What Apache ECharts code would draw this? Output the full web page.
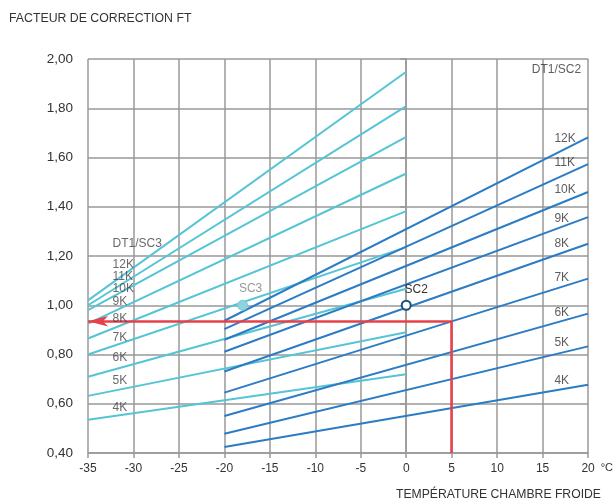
<!DOCTYPE html>
<html>
<head>
<meta charset="utf-8">
<script src="https://cdn.jsdelivr.net/npm/echarts@6/dist/echarts.min.js"></script>
<style>
  html, body { margin: 0; padding: 0; background: #fff; }
  #chart { width: 616px; height: 501px; }
</style>
</head>
<body>
<div id="chart"></div>
<script>
// K levels, top to bottom
const kLevels = ["12K", "11K", "10K", "9K", "8K", "7K", "6K", "5K", "4K"];

// DT1/SC3 curves: from -35 °C to 0 °C
const sc3X = [-35, 0];
const sc3Start = [1.02, 1.0, 0.98, 0.925, 0.865, 0.8, 0.71, 0.632, 0.535];
const sc3End = [1.948, 1.809, 1.684, 1.535, 1.382, 1.236, 1.067, 0.89, 0.72];

// DT1/SC2 curves: from -20 °C to 20 °C
const sc2X = [-20, 20];
const sc2Start = [0.937, 0.903, 0.86, 0.811, 0.731, 0.645, 0.55, 0.478, 0.424];
const sc2End = [1.682, 1.573, 1.46, 1.358, 1.25, 1.108, 0.966, 0.833, 0.677];

// label anchors (data units)
const sc3LabelX = -32.3;
const sc3LabelY = [1.165, 1.116, 1.068, 1.015, 0.945, 0.868, 0.787, 0.693, 0.583];
const sc2LabelX = 16.3;
const sc2LabelY = [1.678, 1.58, 1.47, 1.35, 1.25, 1.11, 0.97, 0.848, 0.693];

// reference points
const sc3Point = [-18, 1.0];
const sc2Point = [0, 1.0];

// example reading: 5 °C -> 0.935
const readX = 5;
const readY = 0.935;

const CYAN = "#55c4d5";
const BLUE = "#2b7cc4";
const GRIDC = "#999";
const TEXT = "#333";
const FONT = "'Liberation Sans', Arial, sans-serif";

const chart = echarts.init(document.getElementById("chart"), null, { renderer: "canvas" });

const curve = (xs, a, b, color, name) => ({
  name,
  type: "line",
  data: [[xs[0], a], [xs[1], b]],
  symbol: "none",
  silent: true,
  lineStyle: { color, width: 2 },
  z: 3,
});

const series = [];
kLevels.forEach((k, i) => series.push(curve(sc3X, sc3Start[i], sc3End[i], CYAN, "SC3 " + k)));
kLevels.forEach((k, i) => series.push(curve(sc2X, sc2Start[i], sc2End[i], BLUE, "SC2 " + k)));

const textLabels = (items, color) => ({
  type: "scatter",
  silent: true,
  symbolSize: 0,
  data: items,
  label: {
    show: true,
    position: "right",
    distance: 0,
    formatter: (p) => p.name,
    color,
    fontSize: 12,
    fontFamily: FONT,
  },
  z: 6,
});

series.push(
  textLabels(
    [{ name: "DT1/SC3", value: [sc3LabelX, 1.25] }].concat(
      kLevels.map((k, i) => ({ name: k, value: [sc3LabelX, sc3LabelY[i]] }))
    ),
    "#444"
  )
);
series.push(
  textLabels(
    [{ name: "DT1/SC2", value: [13.8, 1.955] }].concat(
      kLevels.map((k, i) => ({ name: k, value: [sc2LabelX, sc2LabelY[i]] }))
    ),
    TEXT
  )
);

// red reading path with arrow
series.push({
  type: "line",
  data: [],
  silent: true,
  z: 8,
  markLine: {
    silent: true,
    animation: false,
    label: { show: false },
    lineStyle: { color: "#e8404a", width: 2.5, type: "solid" },
    symbolSize: [8, 20],
    data: [
      [
        { coord: [readX, 0.4], symbol: "none" },
        { coord: [readX, readY], symbol: "none" },
      ],
      [
        { coord: [readX, readY], symbol: "none" },
        { coord: [-35, readY], symbol: "arrow" },
      ],
    ],
  },
});

// SC3 / SC2 points
series.push({
  type: "scatter",
  silent: true,
  z: 10,
  data: [{ name: "SC3", value: sc3Point }],
  symbol: "circle",
  symbolSize: 10,
  itemStyle: { color: "#8ed4df", borderColor: "#74cad9", borderWidth: 1, opacity: 1 },
  label: {
    show: true,
    position: "top",
    offset: [8, 0],
    formatter: "{b}",
    color: "#999",
    fontSize: 12,
    fontFamily: FONT,
  },
});
series.push({
  type: "scatter",
  silent: true,
  z: 10,
  data: [{ name: "SC2", value: sc2Point }],
  symbol: "circle",
  symbolSize: 9,
  itemStyle: { color: "#fff", borderColor: "#1d4f7a", borderWidth: 2, opacity: 1 },
  label: {
    show: true,
    position: "top",
    offset: [10, 1],
    formatter: "{b}",
    color: TEXT,
    fontSize: 12,
    fontFamily: FONT,
  },
});

chart.setOption({
  animation: false,
  textStyle: { fontFamily: FONT },
  title: [
    {
      text: "FACTEUR DE CORRECTION FT",
      left: 4,
      top: 8,
      textStyle: { fontSize: 12.3, fontWeight: "normal", color: TEXT, fontFamily: FONT },
    },
    {
      text: "TEMPÉRATURE CHAMBRE FROIDE",
      left: 391,
      top: 484,
      textStyle: { fontSize: 12.2, fontWeight: "normal", color: TEXT, fontFamily: FONT },
    },
  ],
  grid: { left: 88, right: 24, top: 59, bottom: 48, containLabel: false },
  xAxis: {
    type: "value",
    min: -35,
    max: 20,
    interval: 5,
    name: "°C",
    nameLocation: "end",
    nameGap: 10,
    nameTextStyle: { color: TEXT, fontSize: 11, verticalAlign: "top", padding: [9, 0, 0, 0] },
    axisLine: { show: true, lineStyle: { color: GRIDC, width: 1.5 } },
    axisTick: { show: true, length: 5, lineStyle: { color: GRIDC, width: 1.5 } },
    axisLabel: { color: TEXT, fontSize: 12, margin: 10 },
    splitLine: { show: true, lineStyle: { color: GRIDC, width: 1.5 } },
  },
  yAxis: {
    type: "value",
    min: 0.4,
    max: 2.0,
    interval: 0.2,
    axisLine: { show: true, lineStyle: { color: GRIDC, width: 1.5 } },
    axisTick: { show: true, length: 6, lineStyle: { color: GRIDC, width: 1.5 } },
    axisLabel: {
      color: TEXT,
      fontSize: 13.5,
      margin: 15,
      formatter: (v) => v.toFixed(2).replace(".", ","),
    },
    splitLine: { show: true, lineStyle: { color: GRIDC, width: 1.5 } },
  },
  series,
});
</script>
</body>
</html>
